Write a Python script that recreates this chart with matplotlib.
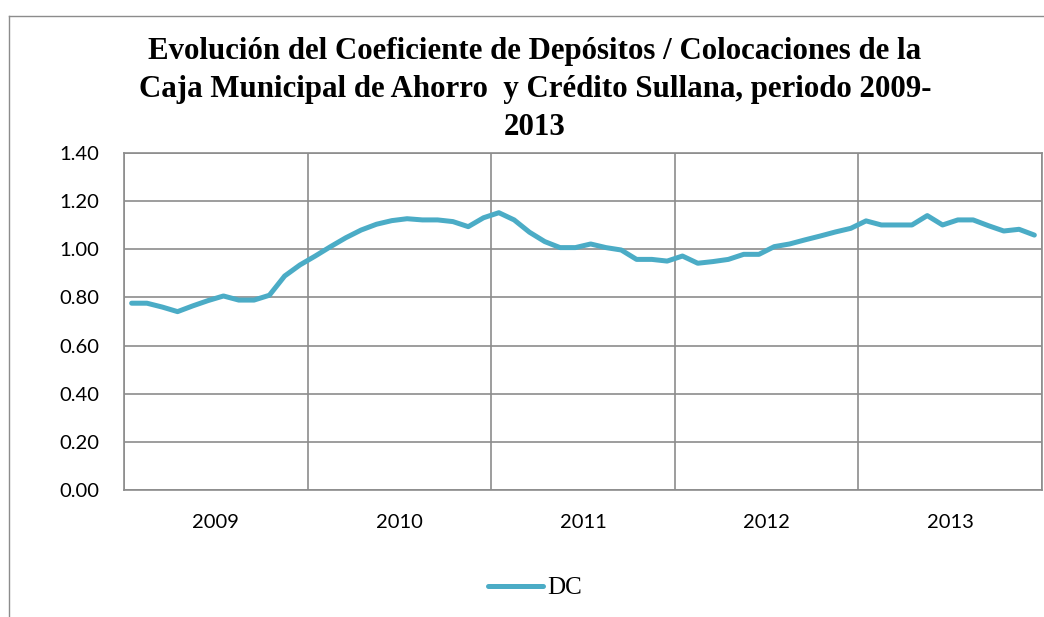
import matplotlib
matplotlib.use("Agg")
import matplotlib.pyplot as plt
import numpy as np
from matplotlib.lines import Line2D

years = ["2009", "2010", "2011", "2012", "2013"]
dc = [0.776, 0.776, 0.760, 0.741, 0.765, 0.787, 0.806, 0.789, 0.789, 0.809, 0.889, 0.935,
      0.972, 1.011, 1.048, 1.080, 1.104, 1.119, 1.127, 1.122, 1.122, 1.115, 1.094, 1.131,
      1.152, 1.122, 1.071, 1.032, 1.007, 1.007, 1.022, 1.007, 0.997, 0.958, 0.958, 0.951,
      0.972, 0.942, 0.949, 0.958, 0.979, 0.979, 1.011, 1.022, 1.039, 1.055, 1.072, 1.087,
      1.118, 1.101, 1.101, 1.101, 1.140, 1.101, 1.122, 1.122, 1.098, 1.076, 1.083, 1.059]
yticks = [0.0, 0.2, 0.4, 0.6, 0.8, 1.0, 1.2, 1.4]
title = ("Evolución del Coeficiente de Depósitos / Colocaciones de la\n"
         "Caja Municipal de Ahorro  y Crédito Sullana, periodo 2009-\n"
         "2013")

W, H = 1044, 617
fig = plt.figure(figsize=(W / 100, H / 100), dpi=100)
fig.patch.set_facecolor("white")

# outer chart border (left and top visible)
fig.add_artist(Line2D([8.5 / W, 8.5 / W], [0, 1 - 15.5 / H], transform=fig.transFigure,
                      color="#8c8c8c", lw=1.0))
fig.add_artist(Line2D([8.5 / W, 1], [1 - 15.5 / H, 1 - 15.5 / H], transform=fig.transFigure,
                      color="#8c8c8c", lw=1.0))

L, R, T, B = 124, 1042, 153, 490
ax = fig.add_axes([L / W, 1 - B / H, (R - L) / W, (B - T) / H])
x = np.arange(len(dc))
ax.plot(x, dc, color="#4BACC6", lw=3.6, solid_joinstyle="round", solid_capstyle="round")
ax.set_xlim(-0.5, len(dc) - 0.5)
ax.set_ylim(0, 1.4)
ax.set_yticks(yticks)
ax.set_yticklabels([f"{v:.2f}" for v in yticks], fontsize=14.5, family="Lato")
ax.set_xticks([5.5 + 12 * i for i in range(len(years))])
ax.set_xticklabels(years, fontsize=14.5, family="Lato")
ax.set_xticks([-0.5 + 12 * i for i in range(len(years) + 1)], minor=True)
ax.tick_params(axis="both", which="both", length=0)
ax.tick_params(axis="y", pad=18)
ax.tick_params(axis="x", pad=17.5)
ax.grid(True, which="minor", axis="x", color="#8c8c8c", lw=1.2)
ax.grid(True, which="major", axis="y", color="#8c8c8c", lw=1.2)
ax.set_axisbelow(True)
for s in ax.spines.values():
    s.set_color("#8c8c8c")
    s.set_linewidth(1.2)

fig.text(535 / W, 1 - 37 / H, title, ha="center", va="top", family="Liberation Serif",
         fontweight="bold", fontsize=22.2, linespacing=1.42)

leg = fig.legend(handles=[Line2D([], [], color="#4BACC6", lw=3.6, solid_capstyle="round")],
                 labels=["DC"], loc="center", bbox_to_anchor=(535 / W, 1 - 588 / H),
                 frameon=False, handlelength=2.2, handletextpad=0.15,
                 prop={"family": "Liberation Serif", "size": 18})

fig.savefig("out.png", dpi=100)
